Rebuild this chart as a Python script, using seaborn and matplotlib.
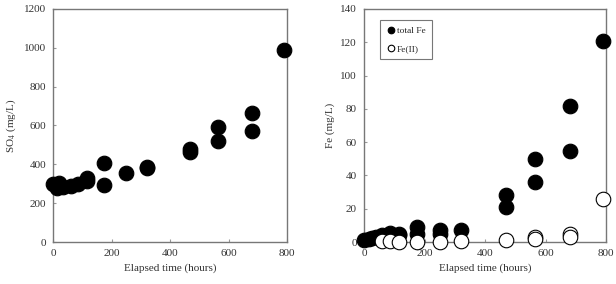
import pandas as pd
import seaborn as sns
import matplotlib.pyplot as plt

# data
so4_time = [0, 10, 15, 20, 35, 60, 85, 115, 115, 175, 175, 250, 320, 320, 470, 470, 565, 565, 680, 680, 790]
so4_conc = [300, 295, 280, 305, 285, 290, 298, 315, 330, 405, 295, 355, 380, 385, 465, 478, 590, 520, 665, 572, 990]

fe_time = [0, 15, 25, 40, 60, 85, 85, 115, 115, 175, 175, 250, 250, 320, 470, 470, 565, 565, 680, 680, 790]
fe_total = [1, 2, 2.5, 3, 4, 5.5, 4, 5, 4, 9, 5, 7, 5, 7.5, 28, 21, 50, 36, 82, 54.5, 120.5]

fe2_time = [60, 85, 115, 175, 250, 320, 470, 565, 565, 680, 680, 790]
fe2_conc = [0.5, 0.8, 0.3, 0.3, 0.3, 0.5, 1, 3, 2, 5, 3, 26]

sns.set_style("ticks")
plt.rcParams["font.family"] = ["Liberation Serif", "DejaVu Serif"]
plt.rcParams["mathtext.fontset"] = "stix"

so4 = pd.DataFrame({"time": so4_time, "conc": so4_conc})
fe = pd.DataFrame({"time": fe_time, "conc": fe_total})
fe2 = pd.DataFrame({"time": fe2_time, "conc": fe2_conc})

fig = plt.figure(figsize=(6.16, 2.84), dpi=100)
ax1 = fig.add_axes([53 / 616, 42 / 284, 234 / 616, 233 / 284])
ax2 = fig.add_axes([364 / 616, 42 / 284, 242 / 616, 233 / 284])

sns.scatterplot(data=so4, x="time", y="conc", ax=ax1, color="black", edgecolor="black", s=110, clip_on=False, zorder=3)
ax1.set_xlim(0, 800)
ax1.set_ylim(0, 1200)
ax1.set_xticks([0, 200, 400, 600, 800])
ax1.set_yticks(range(0, 1201, 200))
ax1.set_xlabel("Elapsed time (hours)", fontsize=8)
ax1.set_ylabel("SO$_4$ (mg/L)", fontsize=8)

sns.scatterplot(data=fe, x="time", y="conc", ax=ax2, color="black", edgecolor="black", s=110, label="total Fe", clip_on=False, zorder=3)
sns.scatterplot(data=fe2, x="time", y="conc", ax=ax2, color="white", edgecolor="black", linewidth=0.8, s=110, label="Fe(II)", clip_on=False, zorder=4)
ax2.set_xlim(0, 800)
ax2.set_ylim(0, 140)
ax2.set_xticks([0, 200, 400, 600, 800])
ax2.set_yticks(range(0, 141, 20))
ax2.set_xlabel("Elapsed time (hours)", fontsize=8)
ax2.set_ylabel("Fe (mg/L)", fontsize=8)
leg = ax2.legend(loc="upper left", bbox_to_anchor=(0.045, 0.975), fontsize=6.8, markerscale=0.45,
                 frameon=True, fancybox=False, edgecolor="#555555", handletextpad=0.1,
                 borderpad=0.7, labelspacing=1.0, handlelength=1.0)
leg.get_frame().set_linewidth(0.8)

for ax in (ax1, ax2):
    for sp in ax.spines.values():
        sp.set_color("#777777")
        sp.set_linewidth(1.0)
    ax.tick_params(labelsize=8, length=2, direction="in", color="#999999", labelcolor="#333333", pad=5)
    ax.xaxis.label.set_color("#333333")
    ax.yaxis.label.set_color("#333333")

fig.savefig("out.png", dpi=100)
